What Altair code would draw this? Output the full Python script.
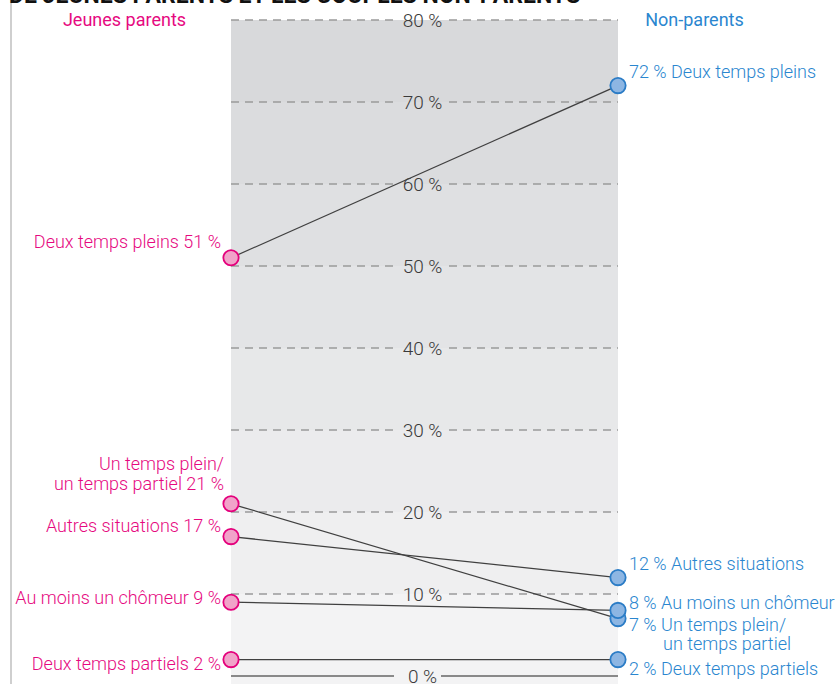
import altair as alt
import pandas as pd

# ---------------- data ----------------
categories = ["Deux temps pleins", "Un temps plein/un temps partiel",
              "Autres situations", "Au moins un chômeur", "Deux temps partiels"]
jeunes_parents = [51, 21, 17, 9, 2]
non_parents = [72, 7, 12, 8, 2]
left_labels = [["Deux temps pleins 51 %"],
               ["Un temps plein/", "un temps partiel 21 %"],
               ["Autres situations 17 %"],
               ["Au moins un chômeur 9 %"],
               ["Deux temps partiels 2 %"]]
right_labels = [["72 % Deux temps pleins"],
                ["7 % Un temps plein/", "un temps partiel"],
                ["12 % Autres situations"],
                ["8 % Au moins un chômeur"],
                ["2 % Deux temps partiels"]]
grid_values = [0, 10, 20, 30, 40, 50, 60, 70, 80]
grid_labels = ["0 %", "10 %", "20 %", "30 %", "40 %", "50 %", "60 %", "70 %", "80 %"]
headers = ["Jeunes parents", "Non-parents"]
title_text = "DE JEUNES PARENTS ET LES COUPLES NON-PARENTS"

# ---------------- style ----------------
W, H = 835, 684
X_LEFT_PX, X_RIGHT_PX = 231, 618
Y0_PX, PX_PER_PCT = 676, 8.2
span = X_RIGHT_PX - X_LEFT_PX
x_dom = [-X_LEFT_PX / span, (W - X_LEFT_PX) / span]
y_dom = [-(H - Y0_PX) / PX_PER_PCT, Y0_PX / PX_PER_PCT]
xs = alt.Scale(domain=x_dom, nice=False, zero=False)
ys = alt.Scale(domain=y_dom, nice=False, zero=False)

FONT = "Roboto"
LW = 300
PINK = "#e6097f"
BLUE = "#2a86cf"
GREY_TXT = "#444444"


def X(f):
    return alt.X(f, type="quantitative", scale=xs, axis=None)


def Y(f):
    return alt.Y(f, type="quantitative", scale=ys, axis=None)


layers = []

# background bands
band_colors = ["#f3f3f4", "#efeff0", "#ebebed", "#e7e8e9", "#e3e4e6", "#dfe0e2", "#dbdcde", "#d8d9db"]
bands = pd.DataFrame({
    "x": [0.0] * 8, "x2": [1.0] * 8,
    "y": [y_dom[0]] + grid_values[1:8],
    "y2": grid_values[1:9],
    "c": band_colors,
})
layers.append(alt.Chart(bands).mark_rect().encode(
    x=X("x"), x2="x2", y=Y("y"), y2="y2", color=alt.Color("c:N", scale=None)))

# left vertical rule
vline = pd.DataFrame({"x": [(11 - X_LEFT_PX) / span], "y": [y_dom[0]], "y2": [y_dom[1]]})
layers.append(alt.Chart(vline).mark_rule(color="#cfcfcf", strokeWidth=2).encode(
    x=X("x"), y=Y("y"), y2="y2"))

# gridlines with a gap for labels
gap_a = (394 - X_LEFT_PX) / span
gap_b = (449 - X_LEFT_PX) / span
seg_rows = []
for v in grid_values[1:]:
    seg_rows.append({"x": 0.0, "x2": gap_a, "y": v})
    seg_rows.append({"x": gap_b, "x2": 1.0, "y": v})
layers.append(alt.Chart(pd.DataFrame(seg_rows)).mark_rule(
    color="#9a9a9a", strokeWidth=1.3, strokeDash=[8, 6]).encode(
    x=X("x"), x2="x2", y=Y("y")))
zero_rows = [{"x": 0.0, "x2": gap_a, "y": 0}, {"x": (441 - X_LEFT_PX) / span, "x2": 1.0, "y": 0}]
layers.append(alt.Chart(pd.DataFrame(zero_rows)).mark_rule(
    color="#666666", strokeWidth=1.6).encode(x=X("x"), x2="x2", y=Y("y")))

# gridline labels
gl = pd.DataFrame({"x": [(422.5 - X_LEFT_PX) / span] * len(grid_values),
                   "y": grid_values, "t": grid_labels})
layers.append(alt.Chart(gl).mark_text(
    font=FONT, fontSize=19, fontWeight=LW, color="#3a3a3a", align="center",
    baseline="middle", dy=1).encode(x=X("x"), y=Y("y"), text="t:N"))

# slope lines
rows = []
for c, a, b in zip(categories, jeunes_parents, non_parents):
    rows.append({"cat": c, "x": 0.0, "y": a, "side": "J"})
    rows.append({"cat": c, "x": 1.0, "y": b, "side": "N"})
pts = pd.DataFrame(rows)
layers.append(alt.Chart(pts).mark_line(color="#404040", strokeWidth=1.25).encode(
    x=X("x"), y=Y("y"), detail="cat:N", order="x:Q"))

# points
layers.append(alt.Chart(pts[pts.side == "J"]).mark_point(
    shape="circle", filled=True, size=235, fill="#f1a3c9", stroke="#e4007c",
    strokeWidth=1.8, opacity=1).encode(x=X("x"), y=Y("y")))
layers.append(alt.Chart(pts[pts.side == "N"]).mark_point(
    shape="circle", filled=True, size=235, fill="#8db6e3", stroke="#2b7cc6",
    strokeWidth=1.8, opacity=1).encode(x=X("x"), y=Y("y")))

# value labels (pixel offsets relative to each point)
left_offsets = [[(-10, -15)], [(-7, -39), (-7, -19)], [(-10, -10)], [(-10, -3)], [(-10, 5)]]
right_offsets = [[(11, -13)], [(11, 7), (45, 26)], [(11, -13)], [(11, -6)], [(11, 10)]]
for lines_, offs, val in zip(left_labels, left_offsets, jeunes_parents):
    for txt, (dx, dy) in zip(lines_, offs):
        d = pd.DataFrame({"x": [0.0], "y": [val], "t": [txt]})
        layers.append(alt.Chart(d).mark_text(
            font=FONT, fontSize=18, fontWeight=LW, color=PINK, align="right",
            baseline="middle", dx=dx, dy=dy).encode(x=X("x"), y=Y("y"), text="t:N"))
for lines_, offs, val in zip(right_labels, right_offsets, non_parents):
    for txt, (dx, dy) in zip(lines_, offs):
        d = pd.DataFrame({"x": [1.0], "y": [val], "t": [txt]})
        layers.append(alt.Chart(d).mark_text(
            font=FONT, fontSize=18, fontWeight=LW, color=BLUE, align="left",
            baseline="middle", dx=dx, dy=dy).encode(x=X("x"), y=Y("y"), text="t:N"))

# column headers
hd = pd.DataFrame({"x": [(124.5 - X_LEFT_PX) / span, (694.5 - X_LEFT_PX) / span],
                   "y": [80, 80], "t": headers, "c": [PINK, BLUE]})
layers.append(alt.Chart(hd).mark_text(
    font=FONT, fontSize=18, align="center", baseline="middle", dy=1).encode(
    x=X("x"), y=Y("y"), text="t:N", color=alt.Color("c:N", scale=None)))

# clipped title at top
layers.append(alt.Chart(pd.DataFrame({"t": [title_text]})).mark_text(
    font=FONT, fontSize=23, fontWeight="bold", color="#111111", align="left",
    baseline="alphabetic").encode(x=alt.value(9), y=alt.value(3), text="t:N"))

chart = alt.layer(*layers).properties(
    width=W, height=H, autosize=alt.AutoSizeParams(type="none"), padding=0,
    background="white"
).configure_view(stroke=None)

chart.save("out.html", embed_options={"renderer": "svg", "actions": False})
